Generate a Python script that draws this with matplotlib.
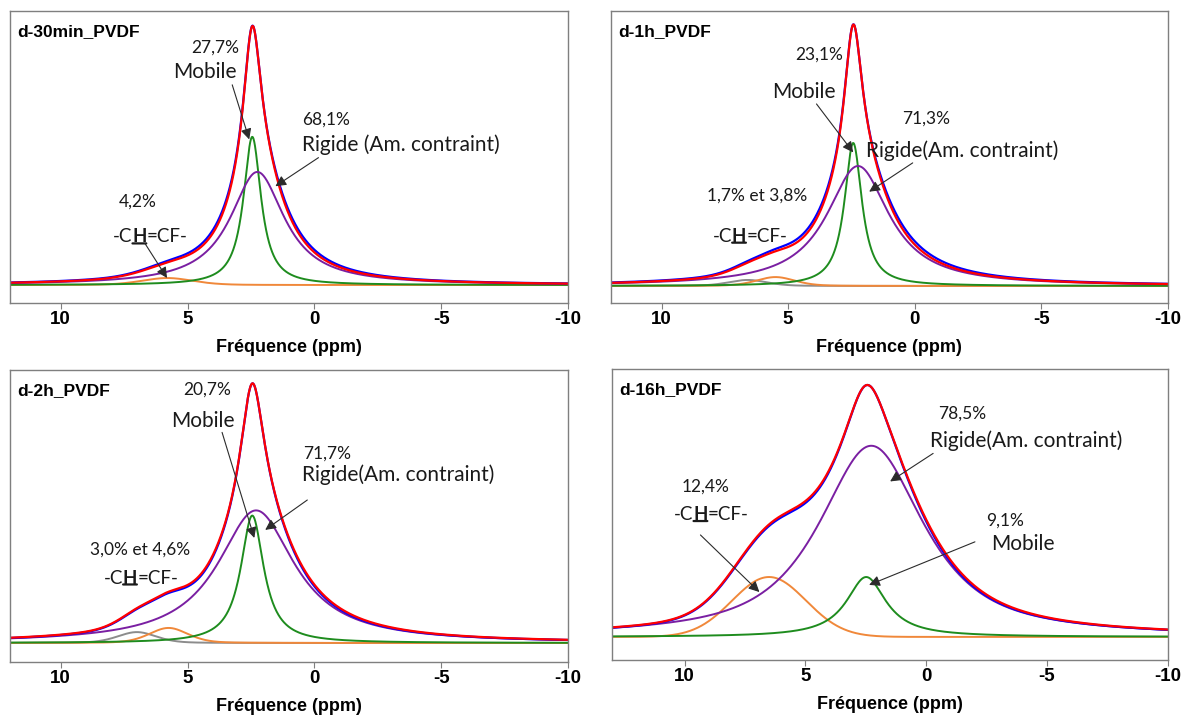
import numpy as np
import matplotlib.pyplot as plt

titles = ['d-30min_PVDF', 'd-1h_PVDF', 'd-2h_PVDF', 'd-16h_PVDF']
ppm_left = [12, 12, 12, 13]
ppm_right = -10

# fitted components: centre (ppm), height (norm.), half width (ppm), lorentzian fraction
mobile_pos = [2.45, 2.43, 2.45, 2.48]
mobile_h = [0.57, 0.546, 0.49, 0.235]
mobile_w = [0.42, 0.42, 0.55, 1.0]
mobile_eta = [1.0, 1.0, 1.0, 1.0]

rigid_pos = [2.25, 2.24, 2.30, 2.27]
rigid_h = [0.435, 0.458, 0.51, 0.75]
rigid_w = [1.3, 1.5, 1.85, 2.6]
rigid_eta = [1.0, 1.0, 1.0, 0.85]

ch_pos = [5.8, 5.5, 5.75, 6.5]
ch_h = [0.027, 0.034, 0.058, 0.235]
ch_w = [1.2, 0.9, 0.9, 1.8]
ch_eta = [0.3, 0.3, 0.3, 0.0]

ch2_pos = [6.6, 6.6, 7.0, 6.6]
ch2_h = [0.0, 0.023, 0.042, 0.0]
ch2_w = [0.9, 0.9, 0.9, 0.9]

# experimental spectrum differs from the fit mainly by the rigid width
exp_rigid_w = [1.38, 1.6, 1.8, 2.55]

ylims = [(-0.069, 1.054), (-0.065, 1.05), (-0.073, 1.05), (-0.09, 1.051)]
positions = [[0.0084, 0.578, 0.469, 0.4067], [0.5134, 0.578, 0.468, 0.4067],
             [0.0084, 0.078, 0.469, 0.4067], [0.5143, 0.081, 0.467, 0.405]]

BOLD = 'Liberation Sans'
REG = 'Lato'
PCT = 12.5
LAB = 15


def peak(x, pos, h, w, eta):
  d = ((x - pos) / w) ** 2
  return h * (eta / (1 + d) + (1 - eta) * np.exp(-np.log(2) * d))


def note(ax, txt, x, y, size, ha='center'):
  ax.text(x, y, txt, fontsize=size, family=REG, ha=ha, va='center', color='#1a1a1a')


def arrow(ax, tail, tip):
  ax.annotate('', xy=tip, xytext=tail,
              arrowprops=dict(arrowstyle='-|>', color='#2b2b2b', lw=0.8,
                              mutation_scale=16, shrinkA=0, shrinkB=0))


def chcf(ax, x, y, size=13.5):
  th = ax.text(x, y, 'H', fontsize=size, family=REG, weight='bold', ha='center', va='center', color='#1a1a1a')
  ax.annotate('-C', xy=(0, 0), xycoords=th, ha='right', va='bottom', fontsize=size, family=REG, color='#1a1a1a')
  ax.annotate('=CF-', xy=(1, 0), xycoords=th, ha='left', va='bottom', fontsize=size, family=REG, color='#1a1a1a')
  ax.annotate('', xy=(0.02, 0.12), xycoords=th, xytext=(0.98, 0.12), textcoords=th,
              arrowprops=dict(arrowstyle='-', lw=1.6, color='#1a1a1a', shrinkA=0, shrinkB=0))


fig = plt.figure(figsize=(11.9, 7.18), dpi=100)
axes = []
for i in range(4):
  ax = fig.add_axes(positions[i])
  axes.append(ax)
  x = np.linspace(ppm_left[i], ppm_right, 1500)
  mob = peak(x, mobile_pos[i], mobile_h[i], mobile_w[i], mobile_eta[i])
  rig = peak(x, rigid_pos[i], rigid_h[i], rigid_w[i], rigid_eta[i])
  ch = peak(x, ch_pos[i], ch_h[i], ch_w[i], ch_eta[i])
  ch2 = peak(x, ch2_pos[i], ch2_h[i], ch2_w[i], 0.3)
  fit = mob + rig + ch + ch2
  exp = mob + peak(x, rigid_pos[i], rigid_h[i], exp_rigid_w[i], rigid_eta[i]) + ch + ch2

  if ch2_h[i] > 0:
    ax.plot(x, ch2, color='#8c8c8c', lw=1.4)
  ax.plot(x, ch, color='#f0883a', lw=1.4)
  ax.plot(x, mob, color='#1e8c1e', lw=1.4)
  ax.plot(x, rig, color='#7a1fa2', lw=1.4)
  ax.plot(x, exp, color='#0000ff', lw=1.6)
  ax.plot(x, fit, color='#ff0000', lw=1.6)

  ax.set_xlim(ppm_left[i], ppm_right)
  ax.set_ylim(*ylims[i])
  ax.set_yticks([])
  ax.set_xticks([10, 5, 0, -5, -10])
  ax.set_xticklabels(['10', '5', '0', '-5', '-10'], fontsize=13.5, family=BOLD, weight='bold')
  ax.tick_params(axis='x', length=4, width=0.8, color='#7f7f7f', pad=2)
  for s in ax.spines.values():
    s.set_color('#7f7f7f')
    s.set_linewidth(1.0)
  ax.set_xlabel('Fréquence (ppm)', fontsize=13, family=BOLD, weight='bold', labelpad=8)
  ax.text(0.013, 0.93, titles[i], transform=ax.transAxes, fontsize=12.5, family=BOLD,
          weight='bold', ha='left', va='center')

# d-30min
ax = axes[0]
note(ax, '27,7%', 3.91, 0.915, PCT)
note(ax, 'Mobile', 4.3, 0.82, LAB)
arrow(ax, (3.24, 0.77), (2.57, 0.56))
note(ax, '68,1%', -0.47, 0.635, PCT)
note(ax, 'Rigide (Am. contraint)', 0.47, 0.54, LAB, ha='left')
arrow(ax, (-0.16, 0.49), (1.54, 0.38))
note(ax, '4,2%', 6.96, 0.32, PCT)
chcf(ax, 6.9, 0.185)
arrow(ax, (6.68, 0.16), (5.81, 0.027))

# d-1h
ax = axes[1]
note(ax, '23,1%', 3.76, 0.885, PCT)
note(ax, 'Mobile', 4.39, 0.74, LAB)
arrow(ax, (3.88, 0.695), (2.43, 0.51))
note(ax, '71,3%', -0.47, 0.64, PCT)
note(ax, 'Rigide(Am. contraint)', 1.92, 0.515, LAB, ha='left')
arrow(ax, (0.08, 0.47), (1.8, 0.36))
note(ax, '1,7% et 3,8%', 6.24, 0.345, PCT)
chcf(ax, 6.94, 0.19)

# d-2h
ax = axes[2]
note(ax, '20,7%', 4.23, 0.973, PCT)
note(ax, 'Mobile', 4.39, 0.854, LAB)
arrow(ax, (3.64, 0.81), (2.37, 0.404))
note(ax, '71,7%', -0.51, 0.73, PCT)
note(ax, 'Rigide(Am. contraint)', 0.47, 0.646, LAB, ha='left')
arrow(ax, (0.28, 0.55), (1.94, 0.435))
note(ax, '3,0% et 4,6%', 6.88, 0.36, PCT)
chcf(ax, 7.27, 0.25)

# d-16h
ax = axes[3]
note(ax, '12,4%', 9.13, 0.59, PCT)
chcf(ax, 9.34, 0.48)
arrow(ax, (9.34, 0.4), (6.9, 0.176))
note(ax, '78,5%', -1.49, 0.875, PCT)
note(ax, 'Rigide(Am. contraint)', -0.17, 0.77, LAB, ha='left')
arrow(ax, (-0.29, 0.72), (1.49, 0.61))
note(ax, '9,1%', -3.26, 0.455, PCT)
note(ax, 'Mobile', -2.69, 0.365, LAB, ha='left')
arrow(ax, (-2.02, 0.373), (2.36, 0.204))

fig.savefig('out.png', dpi=100)
